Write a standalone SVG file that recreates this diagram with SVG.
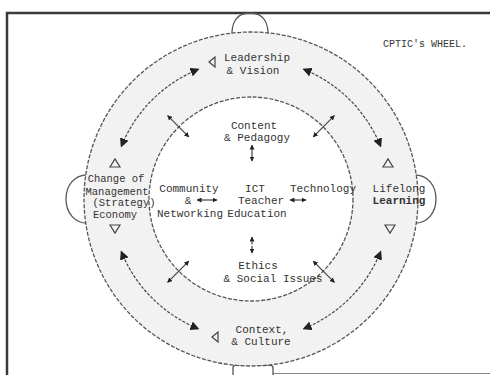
<svg xmlns="http://www.w3.org/2000/svg" width="490" height="375" viewBox="0 0 490 375">
<style>
text{font-family:"Liberation Mono","DejaVu Sans Mono",monospace;font-size:11px;fill:#333;text-anchor:middle}
.dash{fill:none;stroke:#555;stroke-width:1.3;stroke-dasharray:4 1.6}
.solid{fill:none;stroke:#555;stroke-width:1.3}
.tri{fill:none;stroke:#444;stroke-width:1.2}
.arc{fill:none;stroke:#444;stroke-width:1.2;stroke-dasharray:3 1.5;marker-start:url(#big);marker-end:url(#big)}
.sm{fill:none;stroke:#444;stroke-width:1.2;marker-start:url(#small);marker-end:url(#small)}
</style>
<defs>
<marker id="big" viewBox="0 0 10 10" refX="9" refY="5" markerWidth="9" markerHeight="9" markerUnits="userSpaceOnUse" orient="auto-start-reverse"><path d="M0,0 L10,5 L0,10 z" fill="#222"/></marker>
<marker id="small" viewBox="0 0 10 10" refX="9" refY="5" markerWidth="5" markerHeight="5" markerUnits="userSpaceOnUse" orient="auto-start-reverse"><path d="M0,0 L10,5 L0,10 z" fill="#222"/></marker>
</defs>
<rect width="490" height="375" fill="#fff"/>
<g id="frame">
<path d="M7 375 L7 13 L490 13" fill="none" stroke="#3a3a3a" stroke-width="2.5"/>
<path d="M273 373.5 L490 373.5" fill="none" stroke="#888" stroke-width="1"/>
</g>
<g id="knobs">
<path class="solid" d="M232 40 Q230 13 250 13 Q270 13 268 40"/>
<path class="solid" d="M90 175 C58 172 58 226 90 223"/>
<path class="solid" d="M412 175 C444 172 444 226 412 223"/>
<path class="solid" d="M233 375 L233 368 Q233 365 237 365 L269 365 Q273 365 273 368 L273 375"/>
</g>
<g id="wheel">
<circle cx="251" cy="199" r="167" fill="#f2f2f2"/>
<circle class="dash" cx="251" cy="199" r="167"/>
<circle cx="251" cy="199" r="102" fill="#fff"/>
<circle class="dash" cx="251" cy="199" r="102"/>
</g>
<g id="connectors">
<path class="arc" d="M198.6 69.2 A140 140 0 0 0 121.2 146.6"/>
<path class="arc" d="M303.4 69.2 A140 140 0 0 1 380.8 146.6"/>
<path class="arc" d="M121.2 251.4 A140 140 0 0 0 198.6 328.8"/>
<path class="arc" d="M380.8 251.4 A140 140 0 0 1 303.4 328.8"/>
<path class="sm" d="M188.8 136.8 L167.6 115.6"/>
<path class="sm" d="M313.2 136.8 L334.4 115.6"/>
<path class="sm" d="M188.8 261.2 L167.6 282.4"/>
<path class="sm" d="M313.2 261.2 L334.4 282.4"/>
<path class="sm" d="M252 145 L252 161"/>
<path class="sm" d="M252 237 L252 253" stroke-dasharray="3 1.5"/>
<path class="sm" d="M197 200 L217 200"/>
<path class="sm" d="M290 200 L306 200"/>
</g>
<g id="title"><text x="383" y="47" style="text-anchor:start;font-size:10px">CPTIC's WHEEL.</text></g>
<g id="leadership">
<polygon class="tri" points="215,57 215,67 209,62"/>
<text x="257" y="61">Leadership</text>
<text x="253" y="74">&amp; Vision</text>
</g>
<g id="content">
<text x="254" y="129">Content</text>
<text x="257" y="141">&amp; Pedagogy</text>
</g>
<g id="change">
<polygon class="tri" points="110,167 120,167 115,159"/>
<text x="116" y="182" style="font-size:10.5px">Change of</text>
<text x="117" y="195" style="font-size:10.5px">Management</text>
<text x="124" y="206" style="font-size:10.5px">(Strategy)</text>
<text x="115" y="218" style="font-size:10.5px">Economy</text>
<polygon class="tri" points="110,225 120,225 115,233"/>
</g>
<g id="community">
<text x="189" y="192">Community</text>
<text x="188" y="204">&amp;</text>
<text x="190" y="217">Networking</text>
</g>
<g id="ict">
<text x="255" y="192">ICT</text>
<text x="261" y="204">Teacher</text>
<text x="257" y="217">Education</text>
</g>
<g id="technology"><text x="323" y="192">Technology</text></g>
<g id="lifelong">
<polygon class="tri" points="383,167 393,167 388,159"/>
<text x="399" y="192">Lifelong</text>
<text x="399" y="204" style="font-weight:bold">Learning</text>
<polygon class="tri" points="385,225 395,225 390,233"/>
</g>
<g id="ethics">
<text x="258" y="269">Ethics</text>
<text x="273" y="282">&amp; Social Issues</text>
</g>
<g id="context">
<polygon class="tri" points="218,332 218,342 212,337"/>
<text x="262" y="333">Context,</text>
<text x="261" y="345">&amp; Culture</text>
</g>
</svg>
